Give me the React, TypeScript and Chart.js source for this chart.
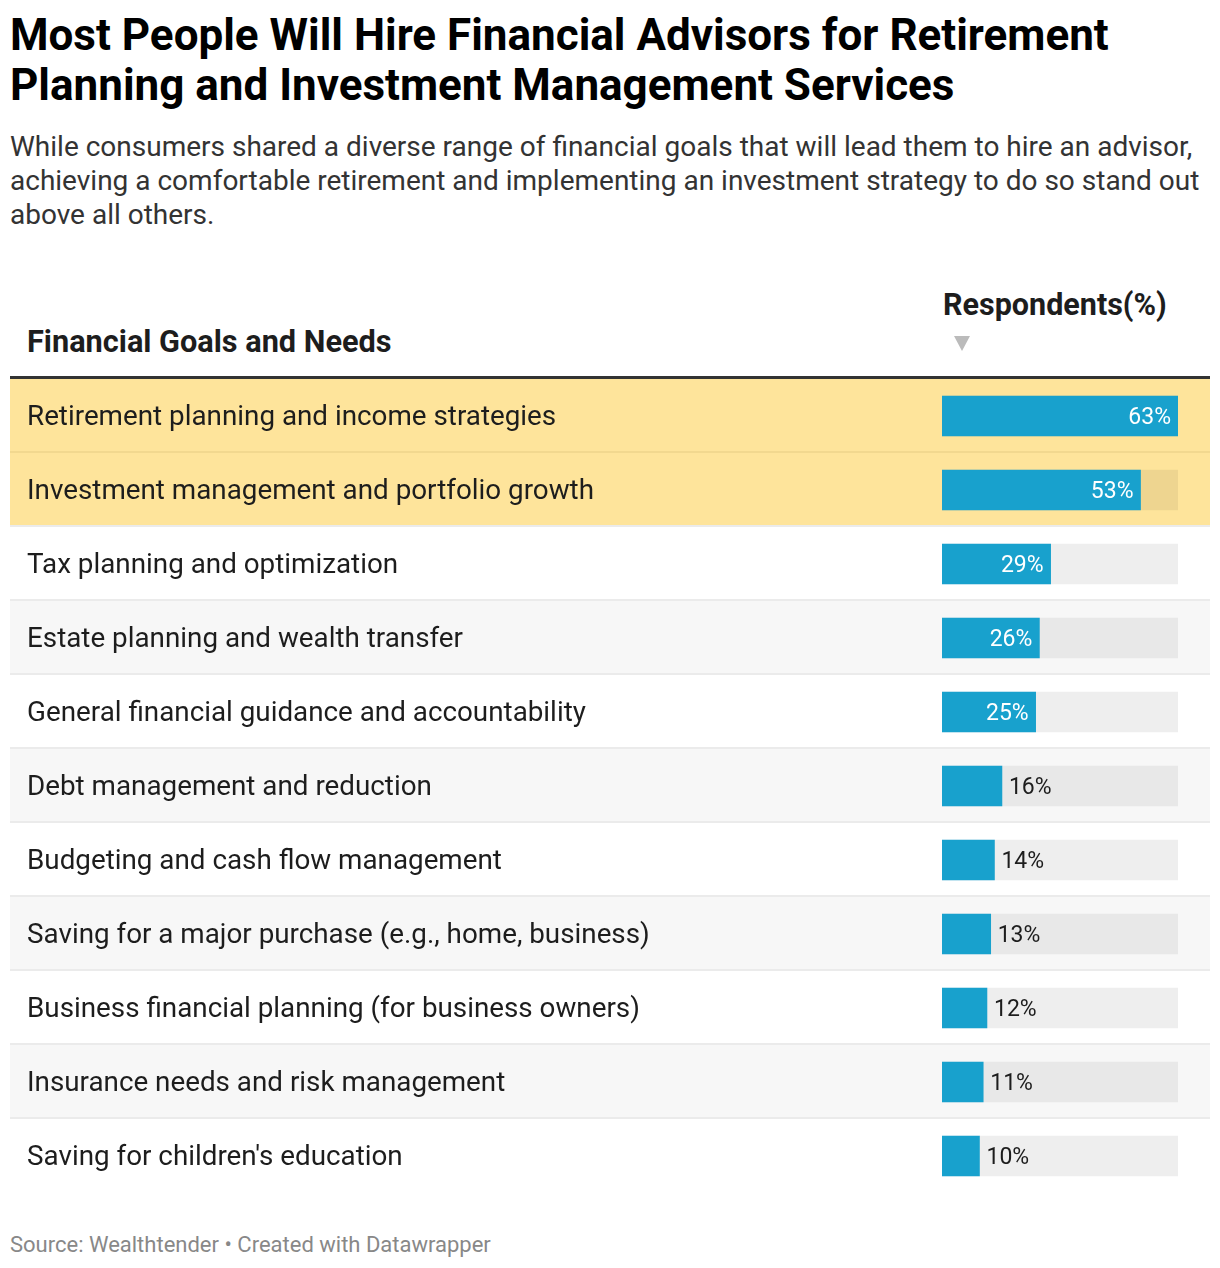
import React, { useEffect, useRef } from "react";
import { Chart, registerables } from "chart.js";

Chart.register(...registerables);

const categories = [
  "Retirement planning and income strategies",
  "Investment management and portfolio growth",
  "Tax planning and optimization",
  "Estate planning and wealth transfer",
  "General financial guidance and accountability",
  "Debt management and reduction",
  "Budgeting and cash flow management",
  "Saving for a major purchase (e.g., home, business)",
  "Business financial planning (for business owners)",
  "Insurance needs and risk management",
  "Saving for children's education",
];
const respondents = [63, 53, 29, 26, 25, 16, 14, 13, 12, 11, 10];
const highlighted = [true, true, false, false, false, false, false, false, false, false, false];
const scaleMax = 63;
const trackValues = categories.map(() => scaleMax);

const FONT = "Roboto, 'Noto Sans', sans-serif";
const BAR = "#18a1cd";

function rowBg(i: number) {
  if (highlighted[i]) return "#fee49b";
  return i % 2 === 0 ? "#ffffff" : "#f7f7f7";
}
function rowBorder(i: number) {
  if (highlighted[i] && highlighted[i + 1]) return "#f2d88f";
  return "#ebebeb";
}
function trackColor(i: number) {
  if (highlighted[i]) return "#eed590";
  return i % 2 === 0 ? "#eeeeee" : "#e8e8e8";
}

const tablePlugin = {
  id: "tablePlugin",
  beforeDatasetsDraw(chart: any) {
    const { ctx, width } = chart;
    const y = chart.scales.y;
    ctx.save();
    categories.forEach((_, i) => {
      const c = y.getPixelForValue(i);
      const top = c - 37;
      ctx.fillStyle = rowBg(i);
      ctx.fillRect(0, top, width, 72);
      if (i < categories.length - 1) {
        ctx.fillStyle = rowBorder(i);
        ctx.fillRect(0, top + 72, width, 2);
      }
    });
    ctx.fillStyle = "#333333";
    ctx.fillRect(0, 0, width, 3);
    ctx.restore();
  },
  afterDatasetsDraw(chart: any) {
    const { ctx } = chart;
    const y = chart.scales.y;
    const x = chart.scales.x;
    ctx.save();
    ctx.textBaseline = "middle";
    categories.forEach((label, i) => {
      const c = y.getPixelForValue(i);
      ctx.font = `400 27.8px ${FONT}`;
      ctx.fillStyle = "#1d1d1d";
      ctx.textAlign = "left";
      ctx.fillText(label, 17, c + 2);
      const v = respondents[i];
      const end = x.getPixelForValue(v);
      ctx.font = `400 23px ${FONT}`;
      if (v >= 20) {
        ctx.fillStyle = "#ffffff";
        ctx.textAlign = "right";
        ctx.fillText(`${v}%`, end - 7, c + 2);
      } else {
        ctx.fillStyle = "#1d1d1d";
        ctx.textAlign = "left";
        ctx.fillText(`${v}%`, end + 7, c + 2);
      }
    });
    ctx.restore();
  },
};

export default function App() {
  const ref = useRef<HTMLCanvasElement>(null);
  useEffect(() => {
    document.body.style.margin = "0";
    const chart = new Chart(ref.current!, {
      type: "bar",
      data: {
        labels: categories,
        datasets: [
          {
            label: "Respondents(%)",
            data: respondents,
            backgroundColor: BAR,
            barThickness: 40,
            grouped: false,
          } as any,
          {
            label: "track",
            data: trackValues,
            backgroundColor: categories.map((_, i) => trackColor(i)),
            barThickness: 40,
            grouped: false,
          } as any,
        ],
      },
      options: {
        indexAxis: "y",
        animation: false,
        responsive: false,
        maintainAspectRatio: false,
        devicePixelRatio: 1,
        layout: { padding: { left: 932, right: 32, top: 3, bottom: 0 } },
        plugins: { legend: { display: false }, tooltip: { enabled: false } },
        scales: {
          x: { display: false, min: 0, max: scaleMax },
          y: { display: false },
        },
      },
      plugins: [tablePlugin],
    });
    return () => chart.destroy();
  }, []);

  return (
    <div style={{ position: "relative", width: 1220, height: 1268, fontFamily: FONT, background: "#fff" }}>
      <div style={{ position: "absolute", left: 10, top: 10, fontSize: 44, lineHeight: "50px", fontWeight: 700, color: "#000", whiteSpace: "nowrap" }}>
        Most People Will Hire Financial Advisors for Retirement
        <br />
        Planning and Investment Management Services
      </div>
      <div style={{ position: "absolute", left: 10, top: 130, fontSize: 28, lineHeight: "34px", color: "#333", whiteSpace: "nowrap" }}>
        While consumers shared a diverse range of financial goals that will lead them to hire an advisor,
        <br />
        achieving a comfortable retirement and implementing an investment strategy to do so stand out
        <br />
        above all others.
      </div>
      <div style={{ position: "absolute", left: 27, top: 325, fontSize: 30.7, lineHeight: "34px", fontWeight: 700, color: "#1d1d1d", whiteSpace: "nowrap" }}>
        Financial Goals and Needs
      </div>
      <div style={{ position: "absolute", left: 943, top: 288, fontSize: 30.5, lineHeight: "34px", fontWeight: 700, color: "#1d1d1d", whiteSpace: "nowrap" }}>
        Respondents(%)
      </div>
      <div style={{ position: "absolute", left: 954, top: 336, width: 0, height: 0, borderLeft: "8px solid transparent", borderRight: "8px solid transparent", borderTop: "15px solid #bbbbbb" }} />
      <div style={{ position: "absolute", left: 10, top: 376, width: 1200, height: 817 }}>
        <canvas ref={ref} width={1200} height={817} style={{ width: 1200, height: 817, display: "block" }} />
      </div>
      <div style={{ position: "absolute", left: 10, top: 1231, fontSize: 22, lineHeight: "28px", color: "#888", whiteSpace: "nowrap" }}>
        Source: Wealthtender • Created with Datawrapper
      </div>
    </div>
  );
}
